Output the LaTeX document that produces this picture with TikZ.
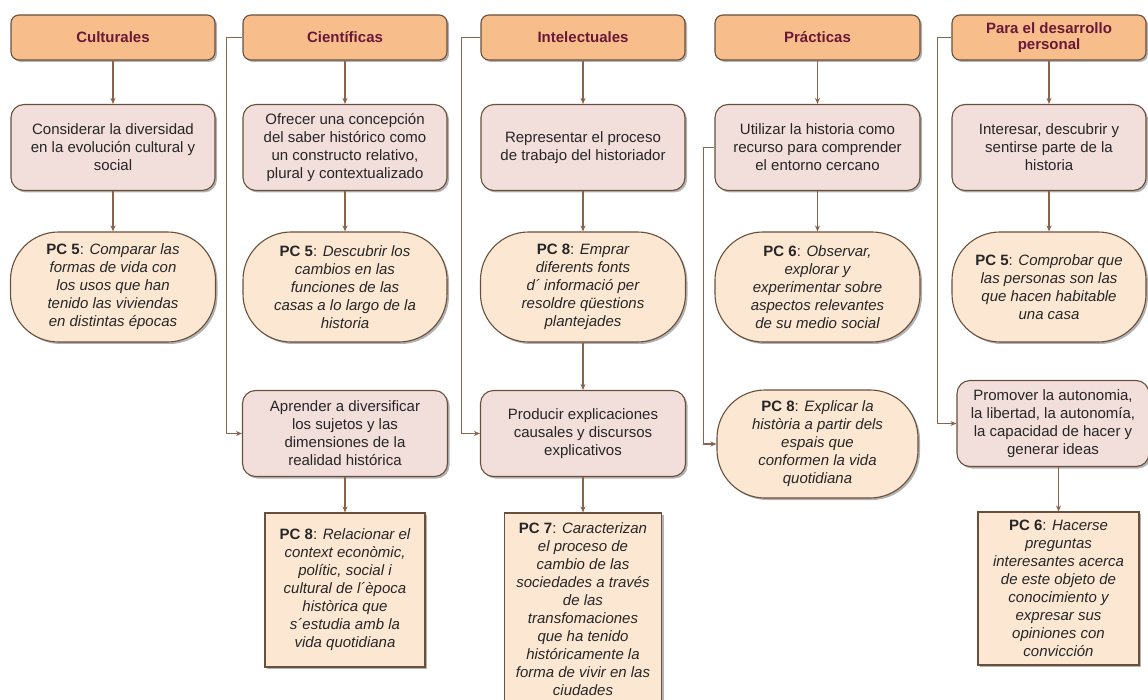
\documentclass[tikz,border=0pt]{standalone}
\usepackage{fontspec}
\setmainfont{Liberation Sans}
\usetikzlibrary{arrows.meta,shadows}
\definecolor{hdrfill}{RGB}{247,190,140}
\definecolor{hdrtext}{RGB}{105,25,55}
\definecolor{edgec}{RGB}{105,80,60}
\definecolor{pinkfill}{RGB}{242,222,219}
\definecolor{peachfill}{RGB}{252,231,211}
\definecolor{connc}{RGB}{135,100,75}
\definecolor{txt}{RGB}{38,38,38}
\tikzset{
  base/.style={draw=edgec, line width=1.1pt, align=center, inner sep=0pt, text=txt,
    drop shadow={shadow xshift=2pt, shadow yshift=-2pt, opacity=0.3, fill=black}},
  hdr/.style={base, fill=hdrfill, rounded corners=8pt, text=hdrtext,
    font=\fontsize{15}{15.5}\selectfont\bfseries, minimum height=45pt},
  goal/.style={base, fill=pinkfill, rounded corners=13pt,
    font=\fontsize{15}{18}\selectfont, minimum height=86pt},
  pcell/.style={base, fill=peachfill, rounded corners=48pt,
    font=\fontsize{15}{18}\selectfont\itshape, minimum height=110pt},
  pcrect/.style={base, fill=peachfill, font=\fontsize{15}{18}\selectfont\itshape},
  arr/.style={draw=connc, line width=1.3pt, -{Stealth[length=6pt,width=5pt]}}
}
\begin{document}
\begin{tikzpicture}[x=1pt,y=-1pt]
\useasboundingbox[fill=white] (0,0) rectangle (1148,700);

% Column 1
\node[hdr, minimum width=204pt] (h1) at (113,37.5) {Culturales};
\node[goal, minimum width=204pt] (g1) at (113,147.5) {Considerar la diversidad\\en la evolución cultural y\\social};
\node[pcell, minimum width=205pt] (p1) at (113,287) {\textup{\textbf{PC 5}:} Comparar las\\formas de vida con\\los usos que han\\tenido las viviendas\\en distintas épocas};

% Column 2
\node[hdr, minimum width=204pt] (h2) at (345,37.5) {Científicas};
\node[goal, minimum width=204pt] (g2) at (345,147.5) {Ofrecer una concepción\\del saber histórico como\\un constructo relativo,\\plural y contextualizado};
\node[pcell, minimum width=204pt] (p2) at (345,287) {\textup{\textbf{PC 5}:} Descubrir los\\cambios en las\\funciones de las\\casas a lo largo de la\\historia};
\node[goal, minimum width=205pt] (g2b) at (345,433.5) {Aprender a diversificar\\los sujetos y las\\dimensiones de la\\realidad histórica};
\node[pcrect, minimum width=160pt, minimum height=154pt] (r2) at (345,590) {\textup{\textbf{PC 8}:} Relacionar el\\context econòmic,\\polític, social i\\cultural de l´època\\històrica que\\s´estudia amb la\\vida quotidiana};

% Column 3
\node[hdr, minimum width=204pt] (h3) at (583,37.5) {Intelectuales};
\node[goal, minimum width=204pt] (g3) at (583,147.5) {Representar el proceso\\de trabajo del historiador};
\node[pcell, minimum width=205pt] (p3) at (583,287) {\textup{\textbf{PC 8}:} Emprar\\diferents fonts\\d´ informació per\\resoldre qüestions\\plantejades};
\node[goal, minimum width=205pt] (g3b) at (583,433.5) {Producir explicaciones\\causales y discursos\\explicativos};
\node[pcrect, minimum width=157pt, minimum height=192pt] (r3) at (583,609) {\textup{\textbf{PC 7}:} Caracterizan\\el proceso de\\cambio de las\\sociedades a través\\de las\\transfomaciones\\que ha tenido\\históricamente la\\forma de vivir en las\\ciudades};

% Column 4
\node[hdr, minimum width=205pt] (h4) at (817.5,37.5) {Prácticas};
\node[goal, minimum width=205pt] (g4) at (817.5,147.5) {Utilizar la historia como\\recurso para comprender\\el entorno cercano};
\node[pcell, minimum width=205pt] (p4) at (817.5,287) {\textup{\textbf{PC 6}:} Observar,\\explorar y\\experimentar sobre\\aspectos relevantes\\de su medio social};
\node[pcell, minimum width=201pt, minimum height=108pt] (p4b) at (817.5,444) {\textup{\textbf{PC 8}:} Explicar la\\història a partir dels\\espais que\\conformen la vida\\quotidiana};

% Column 5
\node[hdr, minimum width=194pt] (h5) at (1049,37.5) {Para el desarrollo\\personal};
\node[goal, minimum width=194pt] (g5) at (1049,147.5) {Interesar, descubrir y\\sentirse parte de la\\historia};
\node[pcell, minimum width=194pt] (p5) at (1049,287) {\textup{\textbf{PC 5}:} Comprobar que\\las personas son las\\que hacen habitable\\una casa};
\node[goal, minimum width=192pt] (g5b) at (1053,423.5) {Promover la autonomia,\\la libertad, la autonomía,\\la capacidad de hacer y\\generar ideas};
\node[pcrect, minimum width=161pt, minimum height=153pt] (r5) at (1058.5,588.5) {\textup{\textbf{PC 6}:} Hacerse\\preguntas\\interesantes acerca\\de este objeto de\\conocimiento y\\expresar sus\\opiniones con\\convicción};

% Vertical arrows
\draw[arr] (h1) -- (g1);
\draw[arr] (g1) -- (p1);
\draw[arr] (h2) -- (g2);
\draw[arr] (g2) -- (p2);
\draw[arr] (g2b) -- (r2);
\draw[arr] (h3) -- (g3);
\draw[arr] (g3) -- (p3);
\draw[arr] (p3) -- (g3b);
\draw[arr] (g3b) -- (r3);
\draw[arr] (h4) -- (g4);
\draw[arr] (g4) -- (p4);
\draw[arr] (h5) -- (g5);
\draw[arr] (g5) -- (p5);
\draw[arr] (r5.north |- g5b.south) -- (r5.north);

% Side connectors
\draw[arr] (h2.west) -- ++(-16,0) |- (g2b.west);
\draw[arr] (h3.west) -- ++(-19,0) |- (g3b.west);
\draw[arr] (g4.west) -- ++(-11,0) |- (p4b.west);
\draw[arr] (h5.west) -- ++(-14,0) |- (g5b.west);
\end{tikzpicture}
\end{document}
